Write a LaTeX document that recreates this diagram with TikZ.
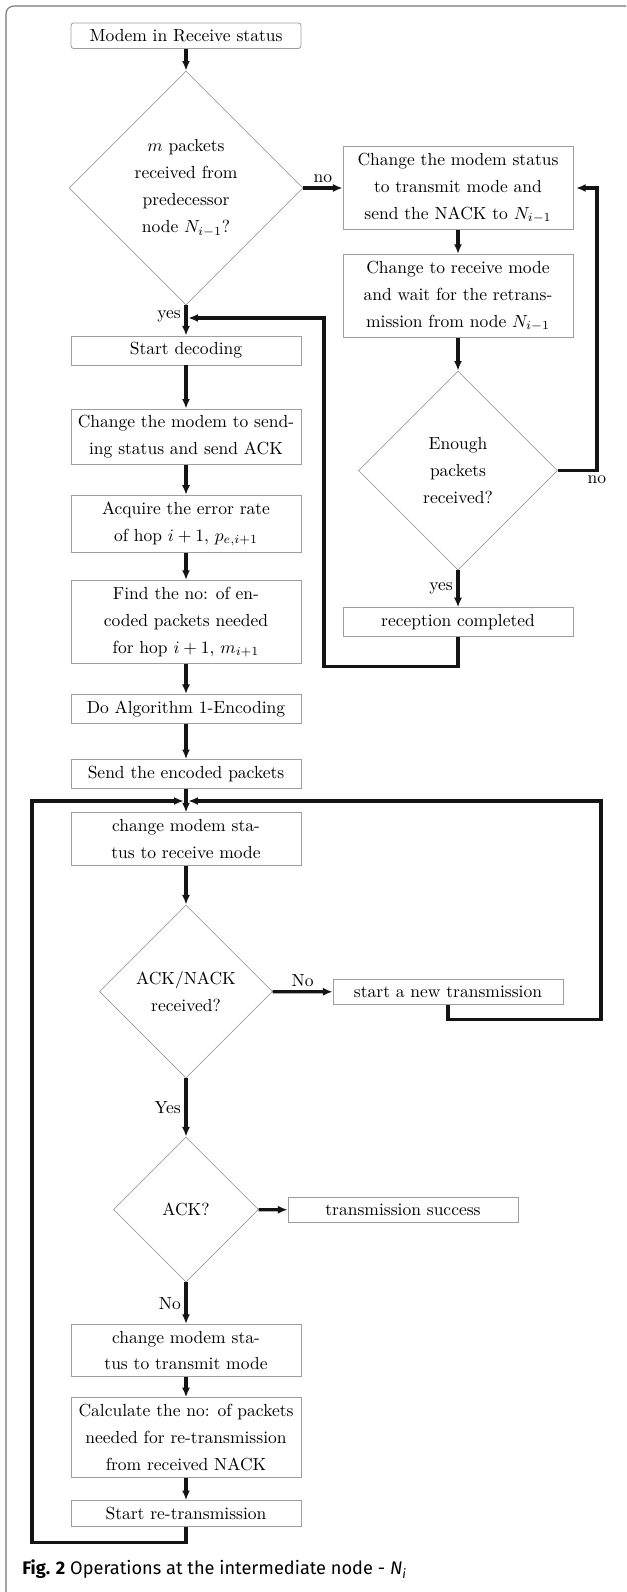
\documentclass[tikz,border=0pt]{standalone}
\usepackage{amsmath}
\usepackage{fontspec}
\newfontfamily\capfont{Fira Sans}
\usepackage{tikz}
\usetikzlibrary{arrows.meta}
\usetikzlibrary{shapes.geometric}
\usetikzlibrary{positioning}
\definecolor{boxgray}{gray}{0.62}
\definecolor{framegray}{gray}{0.45}

\begin{document}
\begin{tikzpicture}
      [x=0.5714pt,y=-0.5714pt,
      box/.style={shape=rectangle,draw=boxgray,line width=0.5pt,align=center,
        minimum width=131.4pt,inner ysep=3.7pt,font=\fontsize{10}{15.4}\selectfont},
      decision/.style={shape=diamond,draw=boxgray,line width=0.4pt,align=center,
        aspect=1,inner sep=0pt,font=\fontsize{10}{15.4}\selectfont},
      flow/.style={draw=black!92,line width=1.9pt,-{Latex[length=5.5pt,width=4.6pt]}},
      lbl/.style={font=\fontsize{10}{12}\selectfont,inner sep=2pt}]
\clip (0,0) rectangle (626,1592);
% frame and caption
\draw[framegray,line width=0.6pt,rounded corners=4.5pt] (6,1700) -- (6,6) -- (700,6);
\node[anchor=west,inner sep=0pt,font=\capfont\fontsize{10.4}{12}\selectfont] (caption)
   at (22,1569) {\textbf{Fig. 2} Operations at the intermediate node - \textit{N\textsubscript{i}}};

% receiving part
\node[box,rounded corners=1.5pt] (modem) at (186,35.75) {Modem in Receive status};
\node[decision,minimum size=133.7pt] (recvd) at (186,188)
   {$m$ packets\\received from\\predecessor\\node $N_{i-1}$?};
\node[box] (sendnack) at (458,188)
   {Change the modem status\\to transmit mode and\\send the NACK to $N_{i-1}$};
\node[box] (waitre) at (458,296)
   {Change to receive mode\\and wait for the retrans-\\mission from node $N_{i-1}$};
\node[decision,minimum size=113.7pt] (enough) at (458,470.5) {Enough\\packets\\received?};
\node[box] (rcvdone) at (458,622) {reception completed};
\coordinate (yesjoin) at (186,318);

% decoding and encoding
\node[box] (decode) at (186,350.5) {Start decoding};
\node[box] (sendack) at (186,437) {Change the modem to send-\\ing status and send ACK};
\node[box] (errrate) at (186,524) {Acquire the error rate\\of hop $i+1$, $p_{e,i+1}$};
\node[box] (numenc) at (186,622)
   {Find the no: of en-\\coded packets needed\\for hop $i+1$, $m_{i+1}$};
\node[box] (encode) at (186,709) {Do Algorithm 1-Encoding};
\node[box] (sendenc) at (186,774) {Send the encoded packets};
\coordinate (rxjoin) at (186,801);

% waiting for ACK/NACK
\node[box] (rxmode) at (186,839) {change modem sta-\\tus to receive mode};
\node[decision,minimum size=98.9pt] (ackrcv) at (186,991.5) {ACK/NACK\\received?};
\node[box] (newtx) at (448,992) {start a new transmission};
\node[decision,minimum size=82.9pt] (isack) at (186,1209.5) {ACK?};
\node[box] (success) at (403,1210) {transmission success};
\node[box] (txmode) at (186,1350.5) {change modem sta-\\tus to transmit mode};
\node[box] (calcre) at (186,1437.5)
   {Calculate the no: of packets\\needed for re-transmission\\from received NACK};
\node[box] (retx) at (186,1513.5) {Start re-transmission};

% connectors
\draw[flow] (modem) -- (recvd);
\draw[flow] (recvd) -- node[lbl,above]{no} (sendnack);
\draw[flow] (sendnack) -- (waitre);
\draw[flow] (waitre) -- (enough);
\draw[flow] (enough) -- node[lbl,left]{yes} (rcvdone);
\draw[flow,shorten >=1.5pt] (enough.east) -- ++(39,0) node[lbl,below]{no} |- (sendnack.east);
\draw[flow] (recvd) -- node[lbl,left,pos=0.38]{yes} (decode);
\draw[flow,shorten >=1.3pt] (rcvdone.south) -- ++(0,30) -- ++(-134,0) |- (yesjoin);
\draw[flow] (decode) -- (sendack);
\draw[flow] (sendack) -- (errrate);
\draw[flow] (errrate) -- (numenc);
\draw[flow] (numenc) -- (encode);
\draw[flow] (encode) -- (sendenc);
\draw[flow] (sendenc) -- (rxmode);
\draw[flow] (rxmode) -- (ackrcv);
\draw[flow] (ackrcv) -- node[lbl,above]{No} (newtx);
\draw[flow,shorten >=1.3pt] (newtx.south) -- ++(0,15) -- ++(153,0) |- (rxjoin);
\draw[flow] (ackrcv) -- node[lbl,left]{Yes} (isack);
\draw[flow] (isack) -- (success);
\draw[flow] (isack) -- node[lbl,left]{No} (txmode);
\draw[flow] (txmode) -- (calcre);
\draw[flow] (calcre) -- (retx);
\draw[flow,shorten >=1.3pt] (retx.south) -- ++(0,16) -- ++(-154,0) |- (rxjoin);
\end{tikzpicture}
\end{document}
